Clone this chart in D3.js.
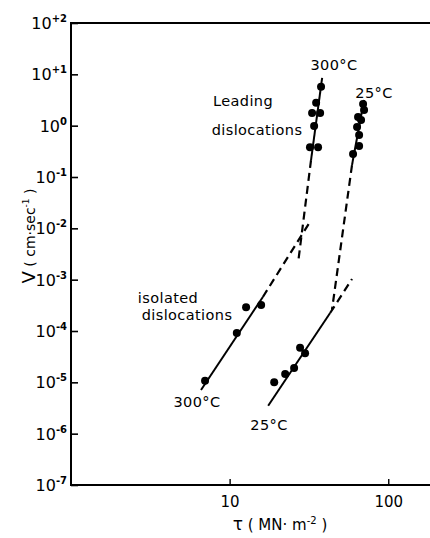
<!DOCTYPE html>
<html>
<head>
<meta charset="utf-8">
<script src="https://cdn.jsdelivr.net/npm/d3@7"></script>
<style>
  body { margin: 0; background: #fff; }
  svg { display: block; font-family: "DejaVu Sans", sans-serif; }
</style>
</head>
<body>
<script>
// Measured points (tau in MN m^-2, V in cm/sec)
const isolated300Tau = [7.0, 11.1, 12.7, 15.8];
const isolated300V = [1.07e-5, 9.1e-5, 2.9e-4, 3.2e-4];
const isolated25Tau = [19.1, 22.4, 25.5, 27.8, 29.9];
const isolated25V = [1.0e-5, 1.45e-5, 1.9e-5, 4.7e-5, 3.7e-5];
const leading300Tau = [37.7, 35.1, 33.1, 37.2, 34.1, 32.1, 36.1];
const leading300V = [5.7, 2.8, 1.77, 1.77, 0.98, 0.38, 0.38];
const leading25Tau = [69.4, 70.4, 64.5, 67.4, 63.6, 65.5, 65.5, 60.0];
const leading25V = [2.64, 2.02, 1.47, 1.29, 0.94, 0.66, 0.40, 0.28];

// Fitted lines: solid part, then dashed extrapolation
const isolated300Solid = [[6.6, 7.1e-6], [16.2, 4.6e-4]];
const isolated300Dash = [[16.2, 4.6e-4], [32.1, 1.33e-2]];
const isolated25Solid = [[17.5, 3.5e-6], [43.0, 2.24e-4]];
const isolated25Dash = [[43.0, 2.24e-4], [59.1, 1.03e-3]];
const leading300Solid = [[38.3, 8.5], [32.6, 0.214]];
const leading300Dash = [[32.6, 0.214], [27.0, 2.1e-3]];
const leading25Solid = [[70.4, 3.16], [59.1, 0.171]];
const leading25Dash = [[59.1, 0.171], [44.2, 2.6e-4]];

const yTickExp = [2, 1, 0, -1, -2, -3, -4, -5, -6, -7];
const yTickSup = ["+2", "+1", "0", "-1", "-2", "-3", "-4", "-5", "-6", "-7"];
const xTicks = [10, 100];
const xTickLabels = ["10", "100"];

const width = 430;
const height = 538;

const svg = d3.select("body").append("svg")
    .attr("width", width)
    .attr("height", height);

const x = d3.scaleLog().domain([1, 200]).range([71, 436]);
const y = d3.scaleLog().domain([1e-7, 1e2]).range([485, 23]);

// frame: left, top and bottom (right side is cut off)
svg.append("path")
    .attr("d", `M${x.range()[1]},${y(1e2)}H${x(1)}V${y(1e-7)}H${x.range()[1]}`)
    .attr("fill", "none")
    .attr("stroke", "#000")
    .attr("stroke-width", 2);

// y axis
const yAxis = svg.append("g")
    .attr("transform", `translate(${x(1)},0)`)
    .call(d3.axisLeft(y)
        .tickValues(yTickExp.map(e => Math.pow(10, e)))
        .tickSizeInner(-7)
        .tickSizeOuter(0)
        .tickFormat(""));
yAxis.select(".domain").remove();
yAxis.selectAll(".tick line").attr("stroke", "#000").attr("stroke-width", 1.6);

const yLabels = svg.append("g");
yTickExp.forEach((e, i) => {
    const t = yLabels.append("text")
        .attr("x", 67)
        .attr("y", y(Math.pow(10, e)) + 6)
        .attr("text-anchor", "end")
        .attr("font-size", 16);
    t.append("tspan").text("10");
    t.append("tspan").attr("dy", -7).attr("font-size", 10).attr("font-weight", "bold").text(yTickSup[i]);
});

// x axis
const xAxis = svg.append("g")
    .attr("transform", `translate(0,${y(1e-7)})`)
    .call(d3.axisBottom(x)
        .tickValues(xTicks)
        .tickSizeInner(-6)
        .tickSizeOuter(0)
        .tickFormat((d, i) => xTickLabels[i]));
xAxis.select(".domain").remove();
xAxis.selectAll(".tick line").attr("stroke", "#000").attr("stroke-width", 1.4);
xAxis.selectAll(".tick text")
    .attr("y", 11)
    .attr("dy", "0.71em")
    .attr("font-size", 15)
    .attr("font-family", "DejaVu Sans, sans-serif")
    .attr("fill", "#000");

// axis titles
const yTitle = svg.append("text")
    .attr("transform", `translate(35,236) rotate(-90)`)
    .attr("text-anchor", "middle")
    .attr("font-size", 14);
yTitle.append("tspan").attr("font-size", 18).text("V");
yTitle.append("tspan").text(" ( cm·sec");
yTitle.append("tspan").attr("dy", -6).attr("font-size", 9).text("-1");
yTitle.append("tspan").attr("dy", 6).text(" )");

const xTitle = svg.append("text")
    .attr("x", 280)
    .attr("y", 530)
    .attr("text-anchor", "middle")
    .attr("font-size", 15);
xTitle.append("tspan").attr("font-size", 17).text("τ");
xTitle.append("tspan").text(" ( MN· m");
xTitle.append("tspan").attr("dy", -6).attr("font-size", 10).text("-2");
xTitle.append("tspan").attr("dy", 6).text(" )");

// fit lines
const line = d3.line().x(d => x(d[0])).y(d => y(d[1]));
const solids = [isolated300Solid, isolated25Solid, leading300Solid, leading25Solid];
const dashes = [isolated300Dash, isolated25Dash, leading300Dash, leading25Dash];

svg.append("g").selectAll("path")
    .data(solids)
    .join("path")
    .attr("d", line)
    .attr("fill", "none")
    .attr("stroke", "#000")
    .attr("stroke-width", 2);

svg.append("g").selectAll("path")
    .data(dashes)
    .join("path")
    .attr("d", line)
    .attr("fill", "none")
    .attr("stroke", "#000")
    .attr("stroke-width", 2.2)
    .attr("stroke-dasharray", "8,5");

// data points
const series = [
    [isolated300Tau, isolated300V],
    [isolated25Tau, isolated25V],
    [leading300Tau, leading300V],
    [leading25Tau, leading25V]
];
series.forEach(([taus, vs]) => {
    svg.append("g").selectAll("circle")
        .data(taus.map((t, i) => [t, vs[i]]))
        .join("circle")
        .attr("cx", d => x(d[0]))
        .attr("cy", d => y(d[1]))
        .attr("r", 4)
        .attr("fill", "#000");
});

// annotations
const notes = [
    { text: "300°C", x: 334, y: 70 },
    { text: "25°C", x: 374, y: 98 },
    { text: "Leading", x: 243, y: 106 },
    { text: "dislocations", x: 257, y: 135 },
    { text: "isolated", x: 168, y: 303 },
    { text: "dislocations", x: 187, y: 320 },
    { text: "300°C", x: 197, y: 407 },
    { text: "25°C", x: 269, y: 430 }
];
svg.append("g").selectAll("text")
    .data(notes)
    .join("text")
    .attr("x", d => d.x)
    .attr("y", d => d.y)
    .attr("text-anchor", "middle")
    .attr("font-size", 14.5)
    .attr("letter-spacing", 0.4)
    .text(d => d.text);
</script>
</body>
</html>
